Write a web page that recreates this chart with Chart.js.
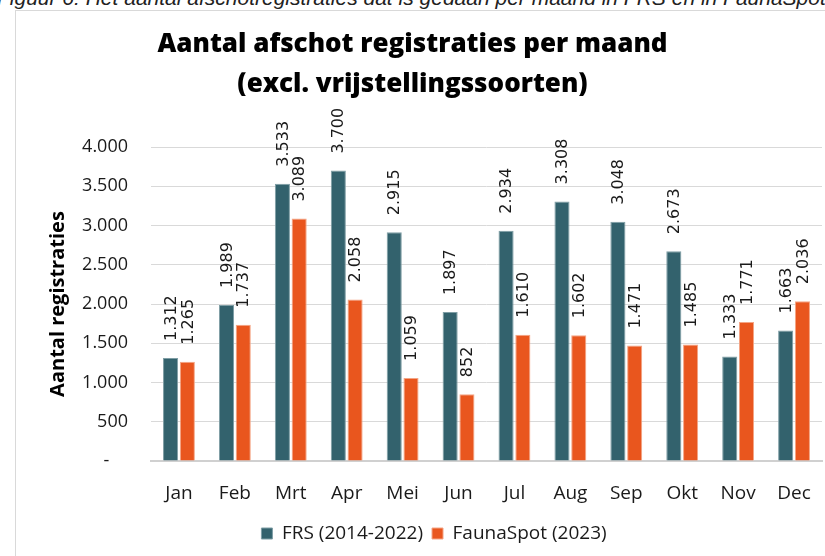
<!DOCTYPE html>
<html>
<head>
<meta charset="utf-8">
<script src="https://cdn.jsdelivr.net/npm/chart.js@4"></script>
<style>
  html, body { margin: 0; padding: 0; background: #fff; }
  body { width: 825px; height: 556px; overflow: hidden; position: relative; }
  #caption {
    position: absolute; left: -3px; top: -14px; white-space: nowrap; line-height: 24px;
    font: italic 21px "Liberation Sans", Arial, sans-serif; color: #222;
  }
  #frame {
    position: absolute; left: 15px; top: 10px; width: 830px; height: 570px;
    border: 1px solid #d9d9d9; box-sizing: border-box;
  }
  #wrap { position: absolute; left: 0; top: 0; width: 825px; height: 556px; }
</style>
</head>
<body>
<div id="caption">Figuur 6: Het aantal afschotregistraties dat is gedaan per maand in FRS en in FaunaSpot</div>
<div id="frame"></div>
<div id="wrap"><canvas id="chart"></canvas></div>
<script>
const months = ["Jan", "Feb", "Mrt", "Apr", "Mei", "Jun", "Jul", "Aug", "Sep", "Okt", "Nov", "Dec"];
const frs = [1312, 1989, 3533, 3700, 2915, 1897, 2934, 3308, 3048, 2673, 1333, 1663];
const faunaSpot = [1265, 1737, 3089, 2058, 1059, 852, 1610, 1602, 1471, 1485, 1771, 2036];
const seriesNames = ["FRS (2014-2022)", "FaunaSpot (2023)"];
const titleLines = ["Aantal afschot registraties per maand", "(excl. vrijstellingssoorten)"];

const TEAL = "#33626d";
const ORANGE = "#e9561e";
const FONT = '"Open Sans", sans-serif';

const fmt = (n) => String(n).replace(/\B(?=(\d{3})+(?!\d))/g, ".");

// rotated value labels above each bar
const barLabels = {
  id: "barLabels",
  afterLayout(chart) {
    // centre the title over the whole canvas, not only over the padded area
    const t = chart.titleBlock;
    if (t) { t.left = 0; t.right = chart.width; t.width = chart.width; }
  },
  afterDatasetsDraw(chart) {
    const ctx = chart.ctx;
    ctx.save();
    ctx.font = '16px "DejaVu Sans", sans-serif';
    ctx.fillStyle = "#1a1a1a";
    ctx.textAlign = "left";
    ctx.textBaseline = "middle";
    chart.data.datasets.forEach((ds, di) => {
      chart.getDatasetMeta(di).data.forEach((bar, i) => {
        ctx.save();
        ctx.translate(bar.x + 1, bar.y - 17);
        ctx.rotate(-Math.PI / 2);
        ctx.fillText(fmt(ds.data[i]), 0, 0);
        ctx.restore();
      });
    });
    ctx.restore();
  }
};

new Chart(document.getElementById("chart"), {
  type: "bar",
  data: {
    labels: months,
    datasets: [
      { label: seriesNames[0], data: frs, backgroundColor: TEAL, borderColor: "#7f9ea5", borderWidth: 1 },
      { label: seriesNames[1], data: faunaSpot, backgroundColor: ORANGE, borderColor: "#f4a585", borderWidth: 1 },
    ]
  },
  options: {
    responsive: true,
    maintainAspectRatio: false,
    animation: false,
    datasets: { bar: { categoryPercentage: 0.6, barPercentage: 0.9 } },
    layout: { padding: { left: 46, right: 3, top: 0, bottom: 3 } },
    plugins: {
      tooltip: { enabled: false },
      title: {
        display: true,
        text: titleLines,
        color: "#000",
        font: { family: FONT, size: 26, weight: "800", lineHeight: 1.54 },
        padding: { top: 25, bottom: 42 }
      },
      legend: {
        position: "bottom",
        labels: {
          color: "#1a1a1a",
          font: { family: FONT, size: 19 },
          boxWidth: 11,
          boxHeight: 11,
          padding: 9
        }
      }
    },
    scales: {
      x: {
        grid: { display: false },
        border: { color: "#d0d0d0", width: 2 },
        ticks: { color: "#1a1a1a", font: { family: FONT, size: 19 }, padding: 13 },
        afterFit: (s) => { s.height = 54; }
      },
      y: {
        min: 0,
        max: 4000,
        grid: { color: "#d9d9d9", lineWidth: 1, drawTicks: false },
        border: { display: false },
        ticks: {
          stepSize: 500,
          padding: 23,
          color: "#1a1a1a",
          font: { family: FONT, size: 18 },
          callback: (v) => v === 0 ? "-    " : fmt(v)
        },
        title: {
          display: true,
          text: "Aantal registraties",
          color: "#000",
          font: { family: FONT, size: 20, weight: "bold", lineHeight: 1.2 },
          padding: 0
        },
        afterFit: (s) => { s.width = 105; }
      }
    }
  },
  plugins: [barLabels]
});
</script>
</body>
</html>
